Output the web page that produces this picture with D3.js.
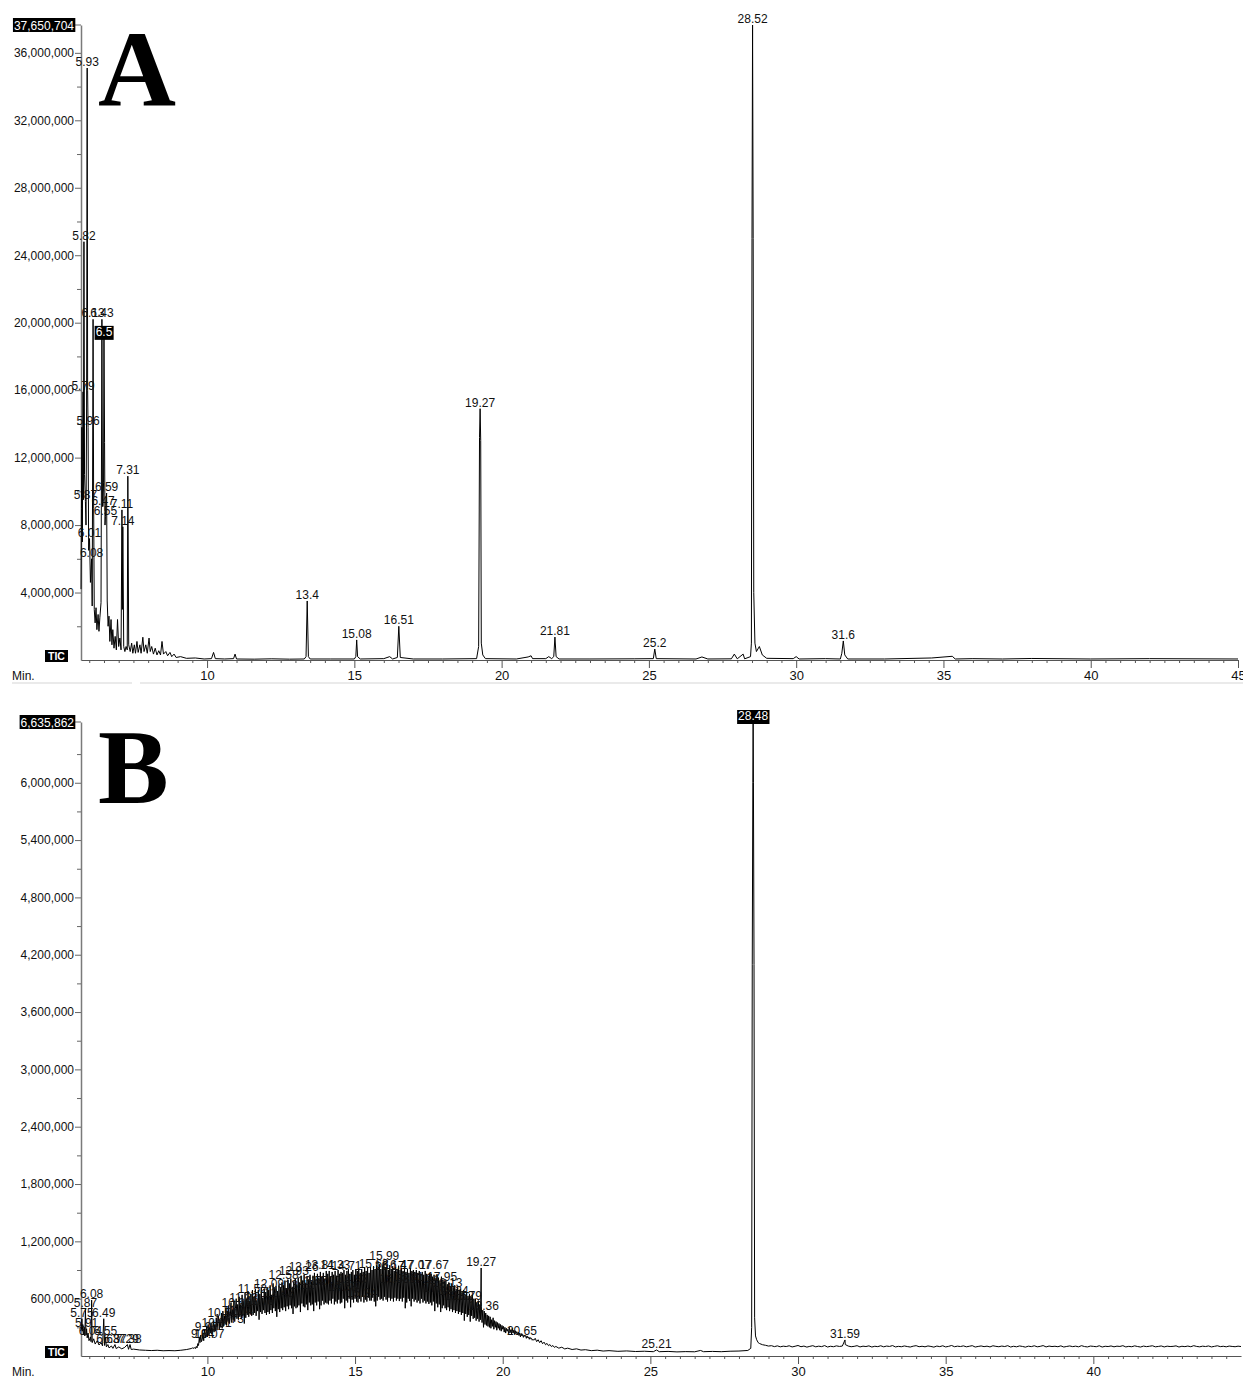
<!DOCTYPE html>
<html>
<head>
<meta charset="utf-8">
<script src="https://cdn.jsdelivr.net/npm/d3@7"></script>
<style>
  html, body { margin: 0; padding: 0; background: #fff; }
  svg { display: block; }
</style>
</head>
<body>
<svg id="chart" width="1243" height="1378"></svg>
<script>
// ---------------- Shared axis data ----------------
const timeDomain = [5.72, 45];
const timeTicks = [10, 15, 20, 25, 30, 35, 40, 45];
const timeMinorTicks = d3.range(6, 45.01, 0.5);

// ---------------- Chromatogram A (values in millions of counts) ----------------
const aMaxValue = 37650704;
const aMajorTicks = [4e6, 8e6, 12e6, 16e6, 20e6, 24e6, 28e6, 32e6, 36e6];
const aMinorTicks = [2e6, 6e6, 10e6, 14e6, 18e6, 22e6, 26e6, 30e6, 34e6];
const aTrace = [
  [5.72,4.2],[5.735,9.0],[5.75,13.8],[5.765,7.0],[5.79,15.9],[5.80,9.5],[5.82,24.8],[5.84,11.0],
  [5.87,9.4],[5.89,8.0],[5.91,15.0],[5.93,35.1],[5.945,16.0],[5.96,13.8],[5.98,6.5],[6.01,7.2],
  [6.04,4.6],[6.08,6.0],[6.10,3.2],[6.13,20.2],[6.15,9.0],[6.17,3.0],[6.20,2.2],[6.23,3.1],
  [6.26,1.8],[6.30,2.7],[6.33,1.7],[6.36,2.5],[6.40,3.4],[6.43,20.2],[6.45,9.1],[6.47,9.1],
  [6.485,10.5],[6.50,19.1],[6.52,12.9],[6.535,8.0],[6.55,8.5],[6.57,9.5],[6.59,9.9],[6.61,3.5],
  [6.64,2.0],[6.67,2.6],[6.70,1.1],[6.74,2.4],[6.77,0.9],[6.80,1.8],[6.84,0.7],[6.88,1.4],
  [6.92,0.6],[6.96,2.4],[7.00,0.8],[7.04,1.3],[7.08,0.6],[7.11,8.9],[7.125,3.0],[7.14,7.9],
  [7.17,0.8],[7.21,0.5],[7.25,0.8],[7.29,0.6],[7.31,10.9],[7.34,0.9],[7.39,0.5],[7.44,1.0],
  [7.48,0.4],[7.53,0.9],[7.57,0.4],[7.62,1.1],[7.66,0.45],[7.72,0.9],[7.76,0.4],[7.82,1.35],
  [7.86,0.5],[7.92,0.9],[7.97,0.4],[8.03,1.3],[8.07,0.5],[8.12,0.8],[8.18,0.35],[8.24,0.7],
  [8.30,0.3],[8.36,0.55],[8.42,0.3],[8.47,1.1],[8.52,0.35],[8.60,0.5],[8.66,0.25],[8.74,0.45],
  [8.80,0.2],[8.88,0.35],[8.95,0.15],[9.10,0.2],[9.30,0.1],[9.60,0.12],[9.90,0.06],[10.15,0.08],
  [10.22,0.45],[10.28,0.08],[10.60,0.06],[10.90,0.08],[10.95,0.35],[11.00,0.06],[11.60,0.05],
  [12.20,0.07],[12.80,0.05],[13.30,0.06],[13.36,0.2],[13.40,3.5],[13.44,0.2],[13.50,0.06],
  [14.20,0.06],[15.00,0.06],[15.05,0.2],[15.08,1.19],[15.11,0.2],[15.20,0.06],[16.00,0.08],
  [16.20,0.2],[16.30,0.06],[16.46,0.15],[16.51,2.0],[16.56,0.15],[17.00,0.06],[18.00,0.06],
  [19.15,0.08],[19.22,0.8],[19.25,13.2],[19.27,14.9],[19.29,13.0],[19.31,1.0],[19.36,0.3],
  [19.45,0.08],[20.50,0.06],[20.90,0.18],[21.00,0.25],[21.05,0.08],[21.50,0.08],[21.60,0.2],
  [21.70,0.08],[21.77,0.2],[21.81,1.36],[21.85,0.2],[21.95,0.06],[23.00,0.06],[24.50,0.07],
  [25.15,0.08],[25.20,0.65],[25.25,0.08],[26.60,0.06],[26.80,0.18],[27.00,0.06],[27.80,0.07],
  [27.90,0.35],[28.00,0.07],[28.20,0.35],[28.25,0.07],[28.45,0.2],[28.48,1.0],[28.50,25.0],
  [28.52,37.65],[28.54,25.0],[28.56,4.0],[28.60,1.0],[28.65,0.5],[28.75,0.8],[28.85,0.3],
  [29.00,0.1],[29.90,0.08],[30.00,0.2],[30.10,0.06],[31.00,0.08],[31.50,0.06],[31.55,0.4],
  [31.60,1.13],[31.65,0.3],[31.75,0.06],[33.00,0.06],[34.60,0.12],[35.30,0.22],[35.40,0.06],
  [36.00,0.08],[37.00,0.06],[38.00,0.09],[40.00,0.06],[42.00,0.08],[45.00,0.06]
];
// Peak labels: retention time and apex height (millions)
const aLabelTimes  = [5.93, 5.82, 6.13, 6.43, 6.5, 5.79, 5.96, 6.59, 5.87, 6.47, 7.11, 6.55, 7.14, 7.31, 6.01, 6.08,
                      13.4, 15.08, 16.51, 19.27, 21.81, 25.2, 28.52, 31.6];
const aLabelValues = [35.1, 24.8, 20.2, 20.2, 19.1, 15.9, 13.8, 9.9, 9.4, 9.1, 8.9, 8.5, 7.9, 10.9, 7.2, 6.0,
                      3.5, 1.19, 2.0, 14.9, 1.36, 0.65, 37.65, 1.13];
const aSelectedPeak = "6.5";

// ---------------- Chromatogram B (values in thousands of counts) ----------------
const bMaxValue = 6635862;
const bMajorTicks = [600e3, 1200e3, 1800e3, 2400e3, 3000e3, 3600e3, 4200e3, 4800e3, 5400e3, 6000e3];
const bMinorTicks = [300e3, 900e3, 1500e3, 2100e3, 2700e3, 3300e3, 3900e3, 4500e3, 5100e3, 5700e3, 6300e3];
const bEarly = [
  [5.72,330],[5.735,280],[5.75,390],[5.765,260],[5.78,330],[5.80,220],[5.83,300],[5.85,210],
  [5.87,490],[5.89,220],[5.91,285],[5.93,190],[5.96,240],[5.99,160],[6.02,180],[6.04,200],
  [6.06,150],[6.08,585],[6.10,140],[6.15,180],[6.20,125],[6.27,160],[6.33,115],[6.40,140],
  [6.45,105],[6.49,390],[6.52,110],[6.55,200],[6.58,95],[6.63,120],[6.67,85],[6.75,105],
  [6.80,80],[6.87,120],[6.91,78],[7.00,95],[7.10,75],[7.20,90],[7.29,120],[7.33,70],
  [7.38,120],[7.42,68],[7.50,72],[7.70,63],[7.90,60],[8.10,57],[8.30,60],[8.50,55],
  [8.70,57],[8.90,55],[9.10,60],[9.30,68],[9.45,78],[9.50,85]
];
// Unresolved hump, sampled every 0.025 min from 9.55 to 21.025 (20 samples per row = 0.5 min)
const bHumpStart = 9.55, bHumpStep = 0.025;
const bHump = [
   80,  90,  78, 100,  85, 130, 110, 190, 140, 220, 150, 170, 240, 160, 280, 190, 230, 310, 200, 330,
  220, 300, 240, 350, 230, 280, 370, 250, 330, 260, 400, 270, 350, 420, 280, 380, 300, 450, 290, 470,
  310, 420, 330, 500, 320, 460, 360, 530, 340, 410, 560, 350, 480, 380, 580, 360, 500, 600, 390, 540,
  380, 620, 410, 540, 390, 640, 420, 560, 340, 660, 400, 600, 430, 680, 410, 570, 440, 650, 420, 690,
  430, 620, 450, 700, 420, 580, 470, 690, 380, 650, 460, 720, 440, 610, 480, 700, 450, 660, 430, 720,
  460, 690, 440, 740, 480, 640, 450, 760, 500, 700, 470, 730, 410, 680, 490, 750, 460, 710, 500, 770,
  480, 740, 510, 790, 470, 700, 520, 800, 490, 760, 530, 810, 500, 720, 440, 780, 520, 810, 500, 750,
  510, 820, 530, 770, 460, 840, 550, 790, 520, 850, 510, 760, 540, 830, 480, 800, 560, 850, 530, 780,
  540, 840, 470, 870, 560, 800, 530, 860, 570, 820, 490, 880, 530, 830, 580, 870, 540, 810, 560, 890,
  550, 860, 540, 890, 580, 830, 550, 880, 600, 850, 540, 890, 570, 840, 550, 900, 590, 860, 550, 880,
  560, 870, 600, 900, 500, 850, 580, 890, 560, 910, 600, 860, 510, 880, 590, 900, 560, 850, 600, 910,
  570, 890, 560, 920, 600, 870, 570, 910, 620, 880, 560, 930, 590, 890, 570, 920, 610, 870, 580, 930,
  580, 900, 610, 940, 570, 910, 520, 950, 580, 920, 620, 960, 590, 910, 600, 940, 580, 985, 620, 920,
  590, 930, 570, 900, 610, 950, 580, 910, 600, 940, 570, 890, 610, 930, 580, 910, 600, 945, 575, 900,
  600, 920, 570, 890, 610, 930, 500, 880, 560, 910, 600, 870, 575, 920, 520, 890, 600, 900, 570, 880,
  590, 900, 560, 870, 580, 890, 550, 860, 600, 880, 560, 850, 580, 890, 550, 860, 570, 840, 545, 870,
  560, 860, 530, 830, 570, 850, 470, 800, 550, 840, 510, 820, 540, 790, 460, 830, 500, 800, 530, 780,
  500, 790, 480, 750, 510, 770, 470, 730, 490, 760, 460, 720, 480, 740, 450, 700, 470, 720, 440, 690,
  460, 700, 430, 660, 450, 690, 370, 640, 440, 670, 410, 630, 430, 650, 360, 620, 420, 640, 390, 600,
  400, 600, 370, 560, 390, 580, 360, 540, 380, 520, 350, 480, 300, 470, 330, 450, 320, 430, 310, 420,
  300, 410, 290, 380, 310, 400, 280, 370, 300, 360, 270, 350, 290, 340, 270, 330, 260, 320, 280, 310,
  250, 300, 240, 290, 260, 280, 235, 300, 245, 275, 230, 290, 240, 270, 225, 265, 235, 255, 220, 250,
  215, 240, 200, 235, 210, 225, 195, 220, 205, 215, 185, 210, 190, 200, 175, 195, 180, 185, 165, 175
];
const bPeaks = [[19.27, 921], [31.59, 168]];
const bLate = [
  [21.05,165],[21.1,185],[21.15,150],[21.2,170],[21.25,140],[21.3,160],[21.35,128],[21.4,145],
  [21.45,118],[21.5,132],[21.55,108],[21.6,120],[21.65,98],[21.7,110],[21.75,90],[21.8,100],
  [21.9,82],[22.0,92],[22.1,74],[22.2,82],[22.35,68],[22.5,75],[22.65,62],[22.8,66],[23.0,56],
  [23.2,61],[23.4,52],[23.6,56],[23.9,49],[24.2,53],[24.5,47],[24.8,50],[25.1,45],[25.21,63],
  [25.3,45],[25.6,48],[25.9,43],[26.2,46],[26.5,44],[26.7,58],[26.8,45],[27.1,48],[27.4,45],
  [27.7,50],[28.0,52],[28.3,58],[28.4,80],[28.43,300],
  [28.45,4100],[28.47,6000],[28.48,6635.862],[28.49,6000],[28.51,4100],[28.53,400],[28.56,210],
  [28.6,170],[28.65,140]
];
// Baseline after the main peak, sampled every 0.1 min from 28.7 to 45.0
const bTailStart = 28.7, bTailStep = 0.1;
const bTail = [
  130,118,112,104,108,98,106,96,103,99,
  107,95,102,110,97,104,93,101,108,96,
  103,98,109,94,102,97,106,100,104,120,
  104,97,101,108,95,103,99,106,94,102,
  98,107,96,104,100,109,95,101,97,105,
  99,94,103,108,97,102,96,105,100,93,
  104,98,107,95,101,110,97,103,99,106,
  96,102,108,94,100,105,98,103,95,107,
  101,97,104,99,108,94,102,96,105,100,
  93,103,98,107,96,101,109,95,104,99,
  102,97,106,94,100,105,98,103,96,108,
  99,95,104,101,97,107,94,102,99,105,
  96,103,100,108,95,101,97,106,99,94,
  104,98,102,107,96,100,105,95,103,99,
  101,106,94,102,98,104,97,108,100,96,
  103,99,105,95,101,107,98,102,96,104,
  100,97,103,99
];
const bLabelTimes = [
  6.08, 5.87, 5.75, 6.49, 5.91, 6.04, 6.55, 6.63, 6.87, 7.29, 7.38,
  9.84, 9.97, 10.07, 10.31, 10.51, 10.73, 10.99, 11.04, 11.23, 11.52, 11.78,
  12.09, 12.43, 12.58, 12.93, 13.12, 13.26, 13.57, 13.81, 14.02, 14.33, 14.58,
  14.71, 14.93, 15.24, 15.63, 15.99, 16.17, 16.33, 16.47, 16.81, 17.07, 17.34,
  17.67, 17.81, 17.95, 18.13, 18.34, 18.52, 18.79, 19.27, 19.36, 20.65,
  25.21, 28.48, 31.59
];
const bLabelValues = [
  585, 490, 390, 390, 285, 200, 200, 120, 120, 120, 120,
  168, 241, 168, 283, 387, 325, 492, 408, 545, 639, 513,
  691, 597, 785, 827, 681, 869, 723, 890, 723, 890, 660,
  880, 743, 597, 900, 984, 880, 743, 890, 764, 890, 743,
  890, 649, 764, 702, 618, 565, 565, 921, 461, 199,
  63, 6635.862, 168
];
const bSelectedPeak = "28.48";

// ---------------- Drawing ----------------
const FONT = "'Liberation Sans', Arial, sans-serif";
const svg = d3.select("#chart");

function drawPanel(cfg) {
  const g = svg.append("g");
  const x = d3.scaleLinear().domain(timeDomain).range([81, cfg.xEnd]);
  const y = d3.scaleLinear().domain([0, cfg.maxValue]).range([cfg.yZero, cfg.yTop]);

  // Panel letter
  g.append("text")
    .attr("x", cfg.letterX).attr("y", cfg.letterY)
    .attr("font-family", "'Liberation Serif', 'Times New Roman', serif")
    .attr("font-weight", "bold").attr("font-size", cfg.letterSize)
    .attr("fill", "#000").text(cfg.letter);

  // Intensity axis
  const ya = g.append("g").attr("transform", "translate(81,0)")
    .call(d3.axisLeft(y).tickValues(cfg.majorTicks).tickFormat(d3.format(","))
      .tickSize(6).tickSizeOuter(0).tickPadding(1));
  ya.select(".domain").attr("stroke", "#7a7a7a").attr("stroke-width", 1.5);
  ya.selectAll(".tick line").attr("stroke", "#666");
  ya.selectAll(".tick text").attr("font-family", FONT).attr("font-size", 12).attr("fill", "#111");

  const ym = g.append("g").attr("transform", "translate(81,0)")
    .call(d3.axisLeft(y).tickValues(cfg.minorTicks).tickFormat("").tickSize(4).tickSizeOuter(0));
  ym.select(".domain").remove();
  ym.selectAll(".tick line").attr("stroke", "#666");

  // Full-scale value in a dark box
  const topY = y(cfg.maxValue);
  g.append("line").attr("x1", 75).attr("x2", 81).attr("y1", topY).attr("y2", topY).attr("stroke", "#666");
  const topText = g.append("text")
    .attr("x", 74).attr("y", topY + 4.5)
    .attr("text-anchor", "end").attr("font-family", FONT).attr("font-size", 12)
    .attr("fill", "#fff").text(d3.format(",")(cfg.maxValue));
  const tb = topText.node().getBBox();
  g.insert("rect", () => topText.node())
    .attr("x", tb.x - 1).attr("y", topY - 7).attr("width", tb.width + 2).attr("height", 14)
    .attr("fill", "#000");

  // Time axis
  const xa = g.append("g").attr("transform", `translate(0,${cfg.yZero})`)
    .call(d3.axisBottom(x).tickValues(cfg.timeTicks).tickFormat(d3.format("d"))
      .tickSize(8).tickSizeOuter(0).tickPadding(3));
  xa.select(".domain").attr("stroke", "#555").attr("stroke-width", 1.2);
  xa.selectAll(".tick line").attr("stroke", "#555");
  xa.selectAll(".tick text").attr("font-family", FONT).attr("font-size", 13).attr("fill", "#111");

  const xm = g.append("g").attr("transform", `translate(0,${cfg.yZero})`)
    .call(d3.axisBottom(x).tickValues(timeMinorTicks.filter(t => !timeTicks.includes(t)))
      .tickFormat("").tickSize(3).tickSizeOuter(0));
  xm.select(".domain").remove();
  xm.selectAll(".tick line").attr("stroke", "#555");

  g.append("text").attr("x", 12).attr("y", cfg.yZero + 20)
    .attr("font-family", FONT).attr("font-size", 12).attr("fill", "#111").text("Min.");

  // "TIC" trace tag
  g.append("rect").attr("x", 45).attr("y", cfg.yZero - 10).attr("width", 23).attr("height", 12).attr("fill", "#000");
  g.append("text").attr("x", 56.5).attr("y", cfg.yZero - 0.5)
    .attr("text-anchor", "middle").attr("font-family", FONT).attr("font-weight", "bold")
    .attr("font-size", 10.5).attr("fill", "#fff").text("TIC");

  // Chromatogram trace
  const line = d3.line().x(d => x(d[0])).y(d => y(d[1] * cfg.unit));
  g.append("path").datum(cfg.trace)
    .attr("d", line).attr("fill", "none")
    .attr("stroke", "#000").attr("stroke-width", 1).attr("stroke-linejoin", "miter");

  // Peak labels
  cfg.labelTimes.forEach((rt, i) => {
    const px = x(rt), py = y(cfg.labelValues[i] * cfg.unit) - 2;
    const txt = String(rt);
    const t = g.append("text").attr("x", px).attr("y", py)
      .attr("text-anchor", "middle").attr("font-family", FONT).attr("font-size", 12)
      .attr("fill", "#111").text(txt);
    if (txt === cfg.selected) {
      const b = t.node().getBBox();
      g.insert("rect", () => t.node())
        .attr("x", b.x - 1).attr("y", py - 10).attr("width", b.width + 2).attr("height", 14)
        .attr("fill", "#000");
      t.attr("fill", "#fff");
    }
  });
}

// Assemble trace B from its sampled segments
const bTrace = [].concat(
  bEarly,
  bHump.map((v, i) => [bHumpStart + i * bHumpStep, v]),
  bPeaks,
  bLate,
  bTail.map((v, i) => [bTailStart + i * bTailStep, v])
).sort((p, q) => p[0] - q[0]);

drawPanel({
  trace: aTrace, unit: 1e6, maxValue: aMaxValue,
  majorTicks: aMajorTicks, minorTicks: aMinorTicks, timeTicks: timeTicks,
  xEnd: 1238, yTop: 25, yZero: 660,
  labelTimes: aLabelTimes, labelValues: aLabelValues, selected: aSelectedPeak,
  letter: "A", letterX: 98, letterY: 105.5, letterSize: 108
});

// faint separator under the first time axis
svg.append("line").attr("x1", 12).attr("x2", 132).attr("y1", 683).attr("y2", 683).attr("stroke", "#eaeaea").attr("stroke-width", 2);
svg.append("line").attr("x1", 140).attr("x2", 1243).attr("y1", 683).attr("y2", 683).attr("stroke", "#eaeaea").attr("stroke-width", 2);

drawPanel({
  trace: bTrace, unit: 1e3, maxValue: bMaxValue,
  majorTicks: bMajorTicks, minorTicks: bMinorTicks, timeTicks: timeTicks.filter(t => t < 45),
  xEnd: 1241, yTop: 722, yZero: 1356,
  labelTimes: bLabelTimes, labelValues: bLabelValues, selected: bSelectedPeak,
  letter: "B", letterX: 98, letterY: 802.5, letterSize: 106
});
</script>
</body>
</html>
